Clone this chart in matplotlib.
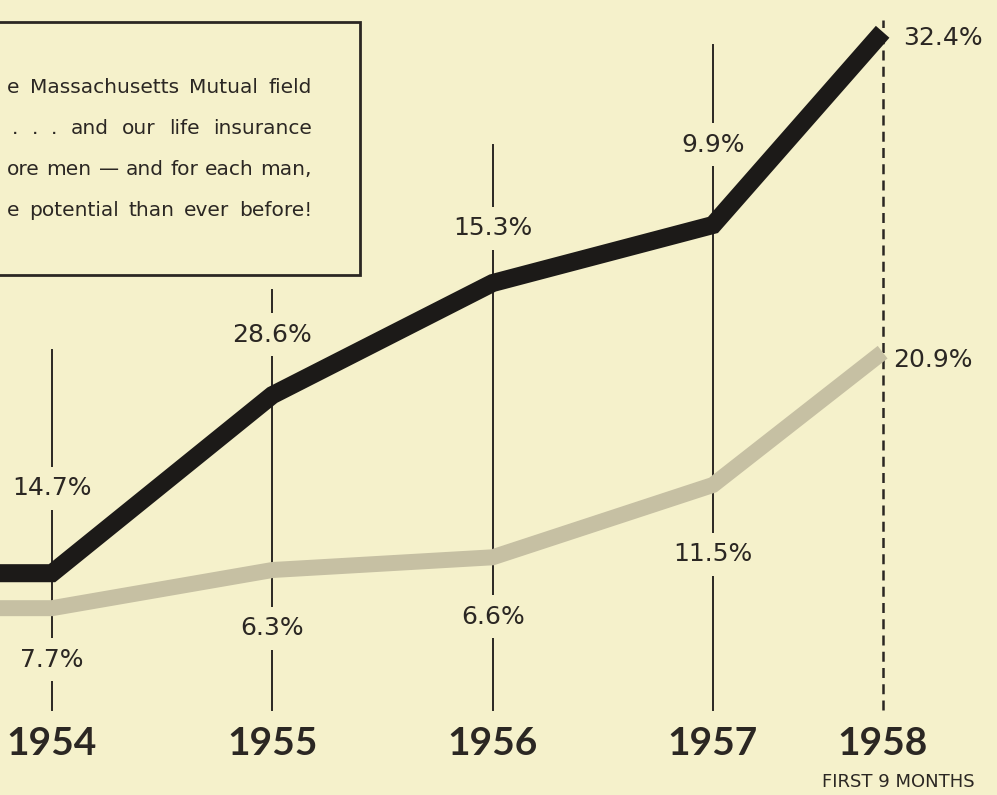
import matplotlib
matplotlib.use("Agg")
from matplotlib import pyplot as plt
from matplotlib.patches import Rectangle

# period end (1958 = first 9 months only)
years = [1953, 1954, 1955, 1956, 1957, 1957.77]
year_labels = ["1954", "1955", "1956", "1957", "1958"]

# relative level of each line
black_level = [27.9, 27.9, 50.3, 64.4, 71.7, 96.0]
gray_level = [23.5, 23.5, 28.3, 29.9, 39.0, 55.7]

black_pct = ["14.7%", "28.6%", "15.3%", "9.9%", "32.4%"]
gray_pct = ["7.7%", "6.3%", "6.6%", "11.5%", "20.9%"]

box_lines = [
    "e Massachusetts Mutual field",
    ". . . and our life insurance",
    "ore men \u2014 and for each man,",
    "e potential than ever before!",
]

bg = "#f5f1cb"
ink = "#2b2723"
fam = ["DejaVu Sans"]
W, H = 997, 795

fig = plt.figure(figsize=(9.97, 7.95), dpi=100, facecolor=bg)
ax = fig.add_axes([0, 0, 1, 1])
ax.set_facecolor(bg)
ax.set_xlim(1953.764, 1958.289)
ax.set_ylim(0, 100)
ax.axis("off")

# guide lines for each year
guide_top = [56.0, 63.5, 81.8, 94.3]
for x, top in zip(years[1:5], guide_top):
    ax.plot([x, x], [10.7, top], color=ink, lw=1.4, zorder=1)
ax.plot([years[5], years[5]], [10.7, 97.5], color=ink, lw=1.8,
        linestyle=(0, (4, 2.5)), zorder=1)

ax.plot(years, gray_level, color="#c6c0a3", lw=11.5, solid_joinstyle="miter",
        solid_capstyle="butt", zorder=3)
ax.plot(years, black_level, color="#1c1a18", lw=13, solid_joinstyle="miter",
        solid_capstyle="butt", zorder=4)

# value labels (bbox masks the guide line behind them)
black_y = [38.6, 57.9, 71.3, 81.8]
gray_y = [17.0, 21.0, 22.4, 30.3]
box = dict(boxstyle="square,pad=0.38", fc=bg, ec="none")
for i in range(4):
    ax.text(years[i + 1], black_y[i], black_pct[i], ha="center", va="center",
            fontsize=18, color=ink, family=fam, bbox=box, zorder=2)
    ax.text(years[i + 1], gray_y[i], gray_pct[i], ha="center", va="center",
            fontsize=18, color=ink, family=fam, bbox=box, zorder=2)
ax.text(years[5] + 0.093, 95.2, black_pct[4], ha="left", va="center",
        fontsize=18, color=ink, family=fam, zorder=5)
ax.text(years[5] + 0.048, 54.7, gray_pct[4], ha="left", va="center",
        fontsize=18, color=ink, family=fam, zorder=5)

for x, lab in zip(years[1:], year_labels):
    ax.text(x, 6.5, lab, ha="center", va="center", fontsize=28,
            fontweight="bold", color=ink, family=["Lato", "DejaVu Sans"])
ax.text(years[5] + 0.07, 1.6, "FIRST 9 MONTHS", ha="center", va="center",
        fontsize=13, color=ink, family=fam)

# caption box, cut off at the left edge
ax.add_patch(Rectangle((-0.02, 0.654), 0.381, 0.318, transform=ax.transAxes,
                       fill=False, ec=ink, lw=2, zorder=5))

# justified caption text
renderer = fig.canvas.get_renderer()
line_left = [7, 12, 7, 7]
right_px = 312
for i, line in enumerate(box_lines):
    yfrac = 0.890 - i * 0.0518
    words = line.split(" ")
    texts = [ax.text(0, yfrac, w, transform=ax.transAxes, ha="left",
                     va="center", fontsize=14.5, color=ink, family=fam,
                     zorder=5) for w in words]
    widths = [t.get_window_extent(renderer).width for t in texts]
    gap = (right_px - line_left[i] - sum(widths)) / (len(words) - 1)
    xpos = line_left[i]
    for t, w in zip(texts, widths):
        t.set_x(xpos / W)
        xpos += w + gap

fig.savefig("out.png", dpi=100, facecolor=bg)
